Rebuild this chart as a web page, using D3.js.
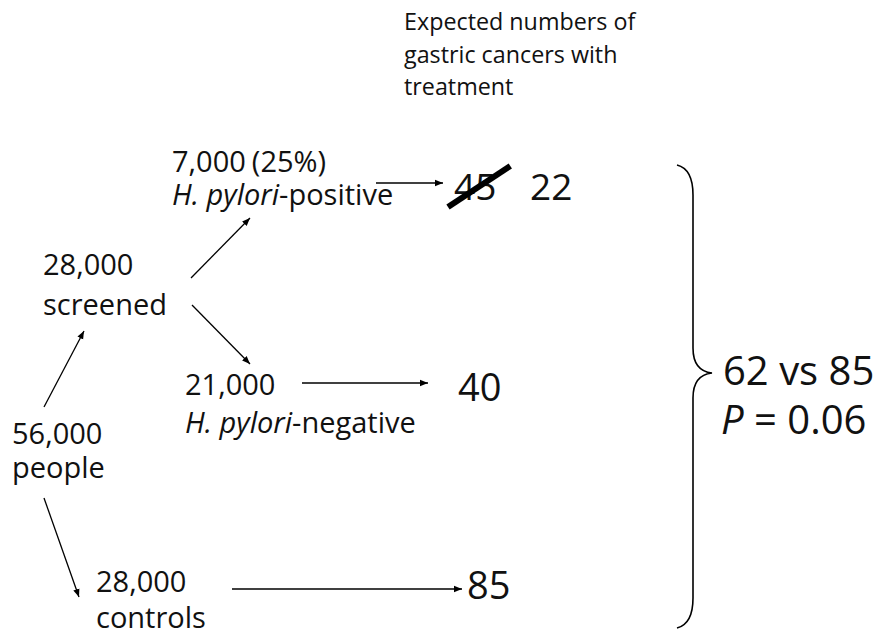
<!DOCTYPE html>
<html>
<head>
<meta charset="utf-8">
<script src="https://cdn.jsdelivr.net/npm/d3@7"></script>
<style>
  body { margin: 0; background: #fff; }
  svg { display: block; font-family: "Open Sans", sans-serif; }
</style>
</head>
<body>
<svg id="chart" width="882" height="636"></svg>
<script>
// data
var groupIds = ["people", "screened", "positive", "negative", "controls"];
var groupCounts = ["56,000", "28,000", "7,000", "21,000", "28,000"];
var groupNotes = ["people", "screened", "(25%)", "", "controls"];
var expectedIds = ["positive", "negative", "controls"];
var expectedOld = [45, null, null];
var expectedNew = [22, 40, 85];
var headerLines = ["Expected numbers of", "gastric cancers with", "treatment"];
var summaryLines = ["62 vs 85", "P = 0.06"];

var svg = d3.select("#chart");

svg.append("defs").append("marker")
    .attr("id", "arr")
    .attr("viewBox", "0 0 10 10")
    .attr("refX", 10).attr("refY", 5)
    .attr("markerWidth", 8).attr("markerHeight", 8)
    .attr("markerUnits", "userSpaceOnUse")
    .attr("orient", "auto")
  .append("path")
    .attr("d", "M0,1 L10,5 L0,9 Z")
    .attr("fill", "#000");

// layout
var pos = {
  people:   {x: 12,  y: 444, gap: 34},
  screened: {x: 43,  y: 275, gap: 40},
  positive: {x: 172, y: 172, gap: 33},
  negative: {x: 185, y: 395, gap: 38},
  controls: {x: 96,  y: 592, gap: 36}
};
var fs = 29;

var g = svg.append("g");

// group labels (two lines in one text)
groupIds.forEach(function(id, i) {
  var p = pos[id];
  var t = g.append("text").attr("x", p.x).attr("y", p.y)
    .attr("font-size", fs).attr("fill", "#111");
  t.append("tspan").text(groupCounts[i]);
  if (id == "positive") t.append("tspan").attr("dx", 6).text(groupNotes[i]);
  if (id == "positive" || id == "negative") {
    t.append("tspan").attr("x", p.x).attr("dy", p.gap)
      .attr("font-style", "italic").text("H. pylori");
    t.append("tspan").text(id == "positive" ? "-positive" : "-negative");
  } else {
    t.append("tspan").attr("x", p.x).attr("dy", p.gap).text(groupNotes[i]);
  }
});

// diagonal arrows
var links = [
  {from: [44, 407], to: [84, 331]},
  {from: [44, 498], to: [79, 597]},
  {from: [191, 278], to: [250, 218]},
  {from: [192, 305], to: [250, 364]}
];
g.selectAll("line.diag").data(links).enter().append("line")
    .attr("class", "diag")
    .attr("x1", function(d) { return d.from[0]; })
    .attr("y1", function(d) { return d.from[1]; })
    .attr("x2", function(d) { return d.to[0]; })
    .attr("y2", function(d) { return d.to[1]; })
    .attr("stroke", "#000").attr("stroke-width", 1.3)
    .attr("marker-end", "url(#arr)");

// horizontal arrows to expected numbers
var rowY = {positive: 183, negative: 383, controls: 589};
var arrX = {positive: [376, 443], negative: [302, 428], controls: [232, 462]};
var numX = {positive: 454, negative: 458, controls: 467};
var numY = {positive: 200, negative: 401, controls: 599};

expectedIds.forEach(function(id, i) {
  g.append("line")
    .attr("x1", arrX[id][0]).attr("x2", arrX[id][1])
    .attr("y1", rowY[id]).attr("y2", rowY[id])
    .attr("stroke", "#000").attr("stroke-width", 1.3)
    .attr("marker-end", "url(#arr)");
  var x = numX[id];
  if (expectedOld[i] != null) {
    var old = g.append("text").attr("x", x).attr("y", numY[id])
      .attr("font-size", 37).attr("fill", "#111").text(expectedOld[i]);
    var w = old.node().getComputedTextLength();
    g.append("line")
      .attr("x1", x - 6).attr("y1", numY[id] + 7)
      .attr("x2", x + w + 14).attr("y2", numY[id] - 34)
      .attr("stroke", "#000").attr("stroke-width", 6);
    x = 530;
  }
  g.append("text").attr("x", x).attr("y", numY[id])
    .attr("font-size", i == 0 ? 37 : 38).attr("fill", "#111").text(expectedNew[i]);
});

// header
var head = g.append("text").attr("x", 404).attr("y", 30)
    .attr("font-size", 23.3).attr("fill", "#111");
head.selectAll("tspan").data(headerLines).enter().append("tspan")
    .attr("x", 404)
    .attr("dy", function(d, i) { return i == 0 ? 0 : 32.5; })
    .text(function(d) { return d; });

// brace
var bx = 677, by0 = 165, by1 = 628, bm = 373, bt = 712, bs = 693;
var brace = d3.path();
brace.moveTo(bx, by0);
brace.quadraticCurveTo(bs, by0 + 4, bs, by0 + 30);
brace.lineTo(bs, bm - 25);
brace.quadraticCurveTo(bs, bm - 2, bt, bm);
brace.quadraticCurveTo(bs, bm + 2, bs, bm + 25);
brace.lineTo(bs, by1 - 30);
brace.quadraticCurveTo(bs, by1 - 4, bx, by1);
g.append("path").attr("d", brace.toString())
  .attr("fill", "none").attr("stroke", "#000").attr("stroke-width", 1.6);

// summary
var sum = g.append("text").attr("x", 723).attr("y", 385)
  .attr("font-size", 40).attr("fill", "#111");
sum.append("tspan").text(summaryLines[0]);
sum.append("tspan").attr("x", 721).attr("dy", 49)
  .attr("font-style", "italic").text(summaryLines[1].slice(0, 1));
sum.append("tspan").text(summaryLines[1].slice(1));
</script>
</body>
</html>
